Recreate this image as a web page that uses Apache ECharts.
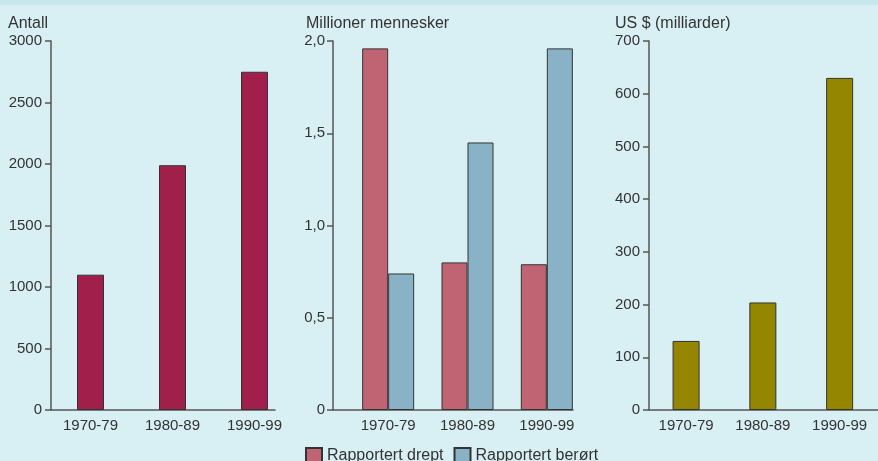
<!DOCTYPE html>
<html>
<head>
<meta charset="utf-8">
<script src="https://cdn.jsdelivr.net/npm/echarts@6/dist/echarts.min.js"></script>
<style>
    html, body { margin: 0; padding: 0; background: #d8eff4; }
    #main { width: 878px; height: 456px; border-top: 5px solid #c6e7ee; }
</style>
</head>
<body>
<div id="main"></div>
<script>
    // data
    let categories = ['1970-79', '1980-89', '1990-99'];
    let antall = [1100, 1990, 2750];                 // antall katastrofer
    let drept = [1.96, 0.80, 0.79];                  // millioner drept
    let berort = [0.74, 1.45, 1.96];                 // millioner berørt
    let kostnad = [131, 204, 630];                   // US $ milliarder
    let ticks1 = ['0', '500', '1000', '1500', '2000', '2500', '3000'];
    let ticks2 = ['0', '0,5', '1,0', '1,5', '2,0'];
    let ticks3 = ['0', '100', '200', '300', '400', '500', '600', '700'];

    let font = 'Liberation Sans';
    let txt = '#333';
    let line = {show: true, lineStyle: {color: '#555', width: 1.5}};
    let border = {borderColor: '#333', borderWidth: 1};

    function frameY(idx, max, interval, labels, margin) {
        return {
            type: 'value', gridIndex: idx, min: 0, max: max, interval: interval,
            axisLine: line,
            axisTick: {show: true, length: 6, lineStyle: {color: '#555', width: 1.5}},
            axisLabel: {color: txt, fontSize: 15, fontFamily: font, margin: margin,
                formatter: function(v, i) { return labels[i]; }},
            splitLine: {show: false}
        };
    }
    function frameX(idx) {
        return {
            type: 'value', gridIndex: idx, min: 0, max: 1,
            axisLine: line, axisTick: {show: false}, axisLabel: {show: false}, splitLine: {show: false}
        };
    }
    function barX(idx) {
        return {
            type: 'category', gridIndex: idx, data: categories,
            axisLine: {show: false}, axisTick: {show: false},
            axisLabel: {color: txt, fontSize: 15, fontFamily: font, margin: 8}
        };
    }
    function barY(idx, max) {
        return {type: 'value', gridIndex: idx, min: 0, max: max, show: false, splitLine: {show: false}};
    }
    function title(text, left) {
        return {text: text, left: left, top: 11, padding: 0,
            textStyle: {fontSize: 16, fontWeight: 'normal', color: txt, fontFamily: font}};
    }

    let chart = echarts.init(document.getElementById('main'));
    let option = {
        animation: false,
        textStyle: {fontFamily: font},
        title: [
            title('Antall', 8),
            title('Millioner mennesker', 306),
            title('US $ (milliarder)', 615)
        ],
        legend: {
            data: ['Rapportert drept', 'Rapportert berørt'],
            left: 305, top: 442, padding: 0, itemWidth: 16, itemHeight: 16, itemGap: 10,
            icon: 'rect',
            textStyle: {fontSize: 16, color: txt, fontFamily: font}
        },
        grid: [
            {left: 51, top: 36, width: 224, height: 369},       // 0 frame 1
            {left: 49.5, top: 36, width: 246, height: 369},     // 1 bars 1
            {left: 333, top: 36, width: 240, height: 369},      // 2 frame 2
            {left: 348.5, top: 36, width: 238, height: 369},    // 3 bars 2
            {left: 649, top: 36, width: 229, height: 369},      // 4 frame 3
            {left: 647.7, top: 36, width: 246, height: 369}     // 5 bars 3
        ],
        xAxis: [frameX(0), barX(1), frameX(2), barX(3), frameX(4), barX(5)],
        yAxis: [
            frameY(0, 3000, 500, ticks1, 9), barY(1, 3000),
            frameY(2, 2, 0.5, ticks2, 8), barY(3, 2),
            frameY(4, 700, 100, ticks3, 9), barY(5, 700)
        ],
        series: [
            {name: 'Antall', type: 'bar', xAxisIndex: 1, yAxisIndex: 1, data: antall, barWidth: 27,
                itemStyle: Object.assign({color: '#a0204b'}, border)},
            {name: 'Rapportert drept', type: 'bar', xAxisIndex: 3, yAxisIndex: 3, data: drept, barWidth: 26, barGap: '0%',
                itemStyle: Object.assign({color: '#c06373'}, border)},
            {name: 'Rapportert berørt', type: 'bar', xAxisIndex: 3, yAxisIndex: 3, data: berort, barWidth: 26, barGap: '0%',
                itemStyle: Object.assign({color: '#8ab2c7'}, border)},
            {name: 'Kostnad', type: 'bar', xAxisIndex: 5, yAxisIndex: 5, data: kostnad, barWidth: 27,
                itemStyle: Object.assign({color: '#948600'}, border)}
        ]
    };
    chart.setOption(option);
</script>
</body>
</html>
